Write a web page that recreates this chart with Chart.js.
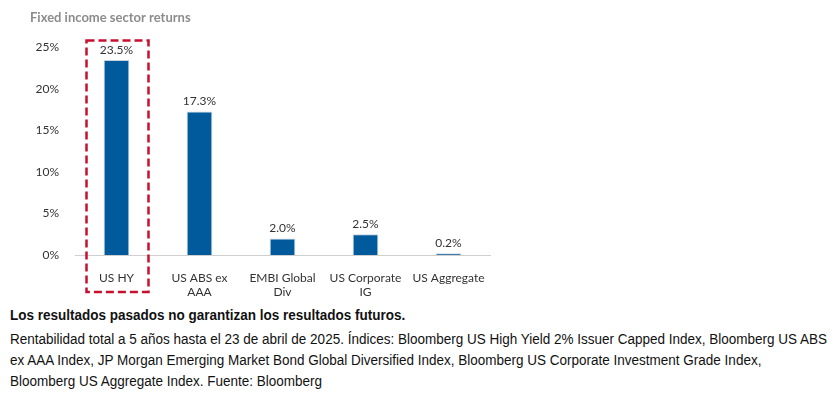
<!DOCTYPE html>
<html>
<head>
<meta charset="utf-8">
<script src="https://cdn.jsdelivr.net/npm/chart.js@4"></script>
<style>
  body { margin: 0; background: #fff; width: 838px; height: 400px; overflow: hidden; position: relative; }
  #wrap { position: absolute; left: 0; top: 0; width: 510px; height: 300px; }
  #note { position: absolute; left: 10px; top: 305px; font-family: 'Liberation Sans', sans-serif;
          font-size: 14px; color: #111; line-height: 21px; white-space: nowrap; transform-origin: 0 0; }
  #note b { display: block; margin-bottom: 3px; }
</style>
</head>
<body>
<div id="wrap"><canvas id="chartSectores"></canvas></div>
<div id="note">
  <b>Los resultados pasados no garantizan los resultados futuros.</b>
  <span id="linea">Rentabilidad total a 5 años hasta el 23 de abril de 2025. Índices: Bloomberg US High Yield 2% Issuer Capped Index, Bloomberg US ABS</span><br>
  ex AAA Index, JP Morgan Emerging Market Bond Global Diversified Index, Bloomberg US Corporate Investment Grade Index,<br>
  Bloomberg US Aggregate Index. Fuente: Bloomberg
</div>
<script>
const categorias = ['US HY', ['US ABS ex', 'AAA'], ['EMBI Global', 'Div'], ['US Corporate', 'IG'], 'US Aggregate']
const rentabilidad = [23.5, 17.3, 2.0, 2.5, 0.2]
const ticksY = [0, 5, 10, 15, 20, 25]

const azul = '#005a9c'
const textColor = '#333333'
const fontFam = 'Lato, "Open Sans", sans-serif'

// ajustar el ancho del texto de nota (fuente estrecha en el original)
const linea = document.getElementById('linea')
const escala = 817 / linea.getBoundingClientRect().width
document.getElementById('note').style.transform = 'scaleX(' + escala + ')'

// ── Etiquetas de valor sobre las barras ──
const etiquetas = {
  id: 'etiquetas',
  afterDatasetsDraw(chart) {
    const ctx = chart.ctx
    const meta = chart.getDatasetMeta(0)
    ctx.save()
    ctx.font = '12px ' + fontFam
    ctx.fillStyle = textColor
    ctx.textAlign = 'center'
    ctx.textBaseline = 'bottom'
    meta.data.forEach((bar, i) => {
      ctx.fillText(rentabilidad[i].toFixed(1) + '%', bar.x, bar.y - 4)
    })
    ctx.restore()
  }
}

// ── Recuadro rojo discontinuo en US HY ──
const recuadro = {
  id: 'recuadro',
  afterDraw(chart) {
    const ctx = chart.ctx
    const x = chart.scales.x.getPixelForValue(0)
    const top = chart.scales.y.getPixelForValue(25) - 7
    const bottom = chart.chartArea.bottom + 37
    ctx.save()
    ctx.strokeStyle = '#c8102e'
    ctx.lineWidth = 2.5
    ctx.setLineDash([8, 4])
    ctx.strokeRect(x - 30, top, 62, bottom - top)
    ctx.restore()
  }
}

new Chart(document.getElementById('chartSectores'), {
  type: 'bar',
  data: {
    labels: categorias,
    datasets: [{
      data: rentabilidad,
      backgroundColor: azul,
      borderColor: '#c9d3de',
      borderWidth: 1,
      barPercentage: 0.31,
      categoryPercentage: 1
    }]
  },
  options: {
    responsive: true,
    maintainAspectRatio: false,
    animation: false,
    layout: { padding: { left: 30, right: 20, top: 0, bottom: 0 } },
    scales: {
      y: {
        min: 0,
        max: 25,
        afterBuildTicks: s => { s.ticks = ticksY.map(v => ({ value: v })) },
        afterFit: s => { s.width = 45 },
        ticks: {
          color: textColor,
          font: { family: fontFam, size: 12 },
          padding: 8,
          callback: v => v + '%'
        },
        grid: { display: false },
        border: { display: false }
      },
      x: {
        afterFit: s => { s.height = 45 },
        ticks: {
          color: textColor,
          font: { family: fontFam, size: 12 },
          padding: 8,
          maxRotation: 0,
          autoSkip: false
        },
        grid: { display: false },
        border: { display: true, color: '#cfcfcf', width: 1 }
      }
    },
    plugins: {
      legend: { display: false },
      tooltip: { enabled: false },
      title: {
        display: true,
        text: 'Fixed income sector returns',
        align: 'start',
        color: '#8c8c8c',
        font: { family: fontFam, size: 13, weight: 'bold' },
        padding: { top: 10, bottom: 22 }
      }
    }
  },
  plugins: [etiquetas, recuadro]
})
</script>
</body>
</html>
